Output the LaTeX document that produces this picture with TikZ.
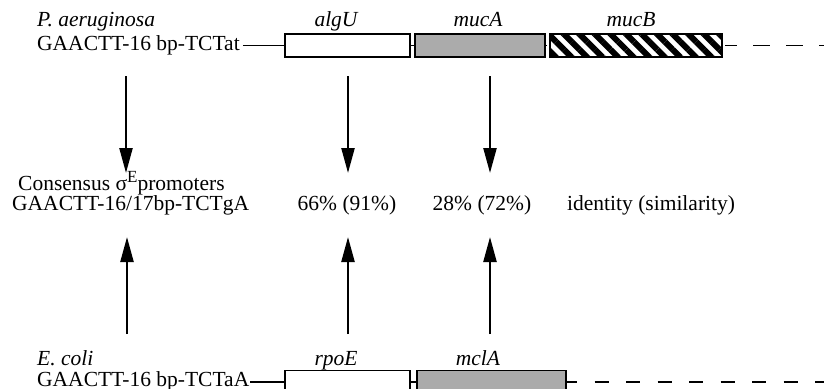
\documentclass[tikz,border=0pt]{standalone}
\usepackage{fontspec}
\setmainfont{Liberation Serif}
\usetikzlibrary{arrows.meta,patterns.meta}
\begin{document}
\begin{tikzpicture}[x=1pt,y=-1pt,
  lbl/.style={inner sep=0pt, font=\fontsize{21.5}{24}\selectfont},
  gene/.style={draw, line width=1.8pt, minimum height=23pt, inner sep=0pt},
  gl/.style={line width=1.8pt},
  arr/.style={line width=2.3pt, -{Triangle[length=25pt,width=13pt]}}]
\useasboundingbox (0,0) rectangle (824,388);
% top row
\node[lbl, anchor=base west] (pa) at (37,26) {\itshape P. aeruginosa};
\node[lbl, anchor=base west] (ps) at (37,50) {GAACTT-16 bp-TCTat};
\node[gene, minimum width=125pt] (algU) at (347.5,45.5) {};
\node[gene, minimum width=130pt, fill=black!33] (mucA) at (480,45.5) {};
\node[gene, minimum width=172pt, pattern={Lines[angle=-45,distance=11pt,line width=6pt]}] (mucB) at (636,45.5) {};
\node[lbl, anchor=base] (algUl) at (336,26) {\itshape algU};
\node[lbl, anchor=base] (mucAl) at (478,26) {\itshape mucA};
\node[lbl, anchor=base] (mucBl) at (631,26) {\itshape mucB};
\coordinate (tS) at (737,45.5);
\coordinate (tE) at (824,45.5);
\draw[gl] ([xshift=3pt]ps.east |- algU.west) -- (algU.west);
\draw[gl] (algU.east) -- (mucA.west);
\draw[gl] (mucA.east) -- (mucB.west);
\draw[gl] (mucB.east) -- (tS);
\draw[gl, dash pattern=on 17pt off 16pt, dash phase=17pt] (tS) -- (tE);
% middle
\node[lbl, anchor=base west] (cons) at (18,190) {Consensus σ\raisebox{8pt}{\fontsize{17}{17}\selectfont E}promoters};
\node[lbl, anchor=base west] (cseq) at (12,210) {GAACTT-16/17bp-TCTgA};
\node[lbl, anchor=base] (id1) at (347,210) {66\% (91\%)};
\node[lbl, anchor=base] (id2) at (482,210) {28\% (72\%)};
\node[lbl, anchor=base west] (idt) at (567,210) {identity (similarity)};
% bottom row
\node[lbl, anchor=base west] (ec) at (37,365) {\itshape E. coli};
\node[lbl, anchor=base west] (es) at (37,386) {GAACTT-16 bp-TCTaA};
\node[gene, minimum width=125pt] (rpoE) at (347.5,382) {};
\node[gene, minimum width=149pt, fill=black!33] (mclA) at (491.5,382) {};
\node[lbl, anchor=base] (rpoEl) at (336,365) {\itshape rpoE};
\node[lbl, anchor=base] (mclAl) at (478,365) {\itshape mclA};
\coordinate (bS) at (577,382);
\coordinate (bE) at (824,382);
\draw[gl] ([xshift=1pt]es.east |- rpoE.west) -- (rpoE.west);
\draw[gl] (rpoE.east) -- (mclA.west);
\draw[gl] (mclA.east) -- (bS);
\draw[gl, dash pattern=on 14pt off 17.5pt, dash phase=14pt] (bS) -- (bE);
% arrows
\coordinate (d1s) at (126,76);  \coordinate (d1e) at (126,173);
\coordinate (d2s) at (348,76);  \coordinate (d2e) at (348,173);
\coordinate (d3s) at (490,76);  \coordinate (d3e) at (490,173);
\coordinate (u1s) at (127,334); \coordinate (u1e) at (127,237);
\coordinate (u2s) at (348,334); \coordinate (u2e) at (348,237);
\coordinate (u3s) at (490,334); \coordinate (u3e) at (490,237);
\foreach \a in {d1,d2,d3,u1,u2,u3} \draw[arr] (\a s) -- (\a e);
\end{tikzpicture}
\end{document}
